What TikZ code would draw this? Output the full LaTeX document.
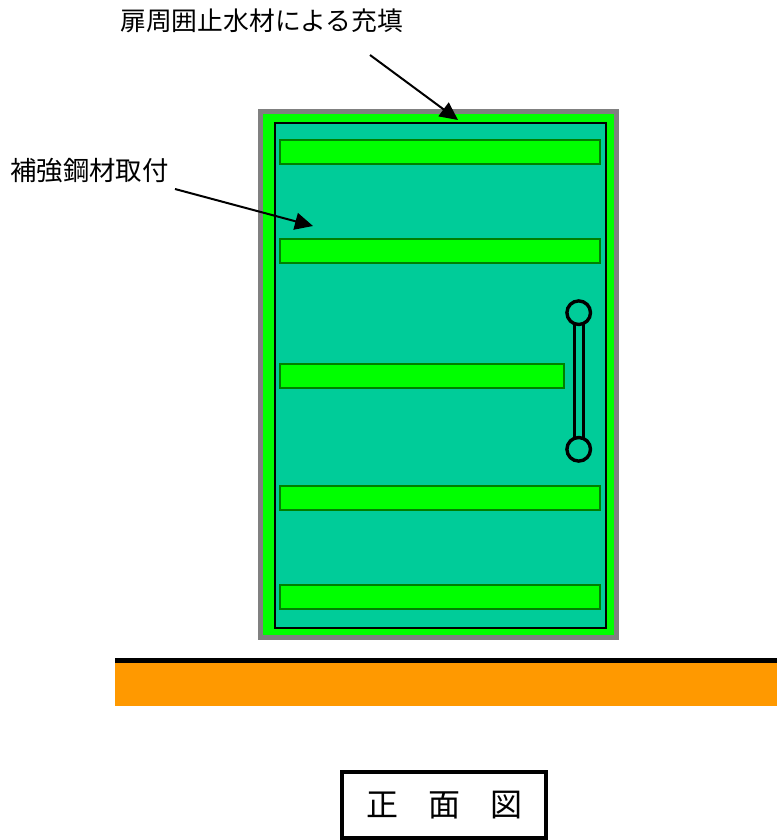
\documentclass[tikz,border=0pt]{standalone}
\usepackage{fontspec}
\newfontfamily\jpfont{Noto Sans CJK JP}
\usetikzlibrary{arrows.meta}
\definecolor{teal0}{RGB}{0,204,153}
\definecolor{lime0}{RGB}{0,255,0}
\definecolor{dgreen}{RGB}{0,128,0}
\definecolor{gray0}{RGB}{128,128,128}
\definecolor{orange0}{RGB}{255,153,0}
\tikzset{
  bar/.style={draw=dgreen,fill=lime0,line width=2pt,anchor=north west,inner sep=0pt,outer sep=0pt},
  leader/.style={draw=black,line width=2pt,-{Triangle[length=18pt,width=17pt]},shorten >=0pt},
  label/.style={font=\jpfont\fontsize{25.8}{26}\selectfont,inner sep=0pt,anchor=west},
  knob/.style={circle,draw=black,line width=3.4pt,minimum size=23.6pt,inner sep=0pt,outer sep=0pt},
}
\begin{document}
\begin{tikzpicture}[x=1pt,y=-1pt]
\useasboundingbox (0,0) rectangle (777,840);
% ground
\node[fill=orange0,minimum width=662pt,minimum height=48pt,inner sep=0pt,outer sep=0pt,anchor=north west] (ground) at (115,658) {};
\draw[line width=4.8pt] (115,660.4) -- (777,660.4);
% door frame
\node[draw=gray0,fill=lime0,line width=5.2pt,minimum width=356pt,minimum height=526pt,inner sep=0pt,outer sep=0pt,anchor=north west] (frame) at (260.3,111.4) {};
\node[draw=black,fill=teal0,line width=2pt,minimum width=331pt,minimum height=505pt,inner sep=0pt,outer sep=0pt,anchor=north west] (door) at (275,123.2) {};
% reinforcing bars
\node[bar,minimum width=320.4pt,minimum height=24pt] (b1) at (279.7,140) {};
\node[bar,minimum width=320.4pt,minimum height=24pt] (b2) at (279.7,238.8) {};
\node[bar,minimum width=284.4pt,minimum height=24pt] (b3) at (279.7,363.8) {};
\node[bar,minimum width=320.4pt,minimum height=24pt] (b4) at (279.7,485.8) {};
\node[bar,minimum width=320.4pt,minimum height=24pt] (b5) at (279.7,584.8) {};
% handle
\node[draw=black,line width=3.4pt,minimum width=9.4pt,minimum height=118pt,inner sep=0pt,outer sep=0pt] (grip) at (579,381) {};
\node[knob,fill=teal0] (k1) at (578.7,312.7) {};
\node[knob,fill=teal0] (k2) at (578.7,449.3) {};
% labels
\node[label] (l1) at (120,21) {扉周囲止水材による充填};
\node[label,font=\jpfont\fontsize{26.4}{26}\selectfont] (l2) at (10,170.5) {補強鋼材取付};
\coordinate (a1s) at (370,55);
\coordinate (a1e) at (458,120);
\coordinate (a2s) at (175,189);
\coordinate (a2e) at (313,226);
\draw[leader] (a1s) -- (a1e);
\draw[leader] (a2s) -- (a2e);
% title
\node[draw=black,line width=3.8pt,minimum width=204pt,minimum height=66pt,inner sep=0pt,outer sep=0pt,font=\jpfont\fontsize{32}{32}\selectfont] (title) at (444.2,805) {\raisebox{-3pt}{正\hspace{30pt}面\hspace{30pt}図}};
\end{tikzpicture}
\end{document}
